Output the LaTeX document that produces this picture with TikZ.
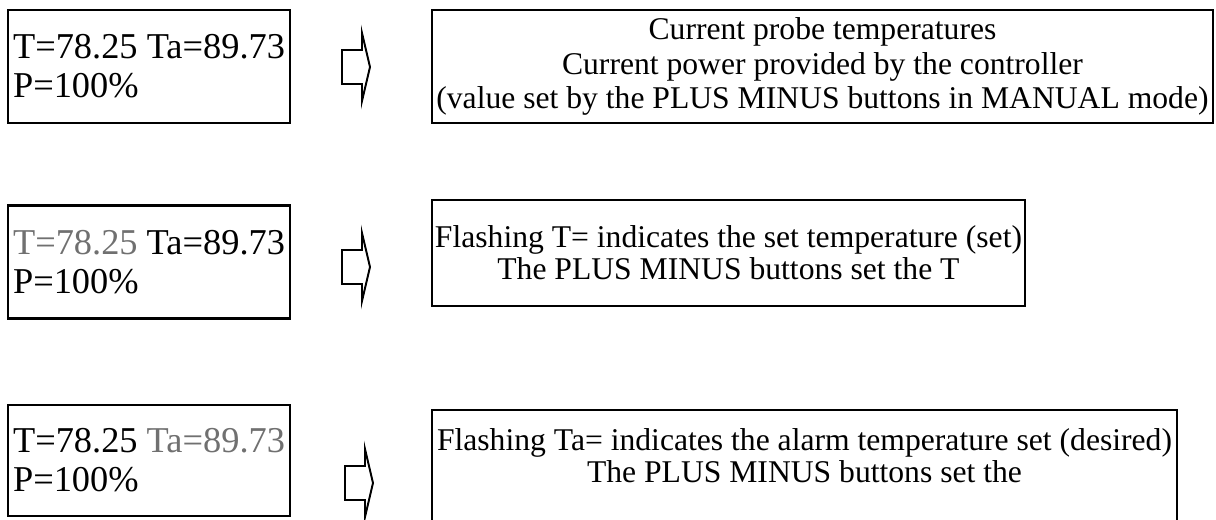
\documentclass[tikz,border=0pt]{standalone}
\usepackage{fontspec}
\setmainfont{Liberation Serif}
\usepackage{xcolor}
\usetikzlibrary{positioning}
\definecolor{flashgray}{RGB}{112,112,112}

\begin{document}
\begin{tikzpicture}[
  lcd/.style={draw=black, line width=1.3pt, minimum width=5.64cm, minimum height=2.26cm, align=left, inner sep=1pt, font=\fontsize{20.7}{22.1}\selectfont},
  desc/.style={draw=black, line width=1.3pt, align=center, inner sep=1pt},
  pointer/.style={draw=black, line width=1.1pt, line join=miter}
]
  \clip (0,0) rectangle (24.32,10.38);

  % Display: lettura normale
  \node[lcd] (lcdA) at (2.98, 9.05) {T=78.25 Ta=89.73\\P=100\%};
  \node[desc, minimum width=15.62cm, minimum height=2.26cm, font=\fontsize{18}{19.5}\selectfont] (infoA) at (16.45, 9.05) {Current probe temperatures\\Current power provided by the controller\\(value set by the PLUS MINUS buttons in MANUAL mode)};

  % Display: T lampeggiante
  \node[lcd] (lcdB) at (2.98, 5.14) {\textcolor{flashgray}{T=78.25} Ta=89.73\\P=100\%};
  \node[desc, minimum width=11.86cm, minimum height=2.12cm, font=\fontsize{18}{18.1}\selectfont] (infoB) at (14.57, 5.32) {Flashing T= indicates the set temperature (set)\\The PLUS MINUS buttons set the T};

  % Display: Ta lampeggiante
  \node[lcd, minimum height=2.22cm] (lcdC) at (2.98, 1.17) {T=78.25 \textcolor{flashgray}{Ta=89.73}\\P=100\%};
  \node[desc, minimum width=14.9cm, minimum height=2.64cm, font=\fontsize{18}{18.1}\selectfont] (infoC) at (16.09, 0.86) {Flashing Ta= indicates the alarm temperature set (desired)\\The PLUS MINUS buttons set the\\\strut};

  % Frecce
  \foreach \ax/\ay/\nm in {6.84/9.04/A, 6.84/5.04/B, 6.90/0.72/C} {
    \coordinate (ptr\nm) at (\ax, \ay);
    \draw[pointer] (ptr\nm) ++(0,0.34) -- ++(0.40,0) -- ++(0,0.34) -- ++(0.16,-0.68) -- ++(-0.16,-0.68) -- ++(0,0.34) -- ++(-0.40,0) -- cycle;
  }

\end{tikzpicture}
\end{document}
